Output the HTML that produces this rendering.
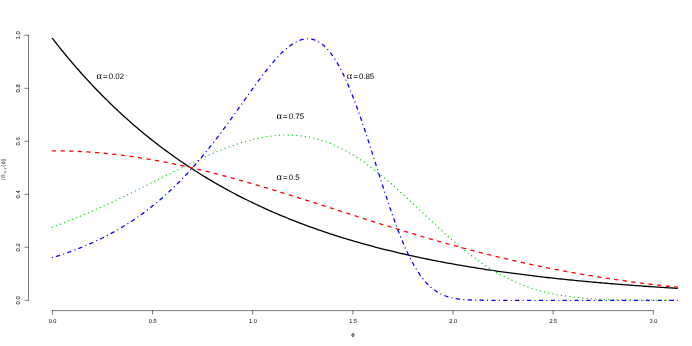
<!DOCTYPE html>
<html><head><meta charset="utf-8"><title>plot</title>
<style>html,body{margin:0;padding:0;background:#fff;overflow:hidden}svg{display:block;will-change:transform}text{text-rendering:geometricPrecision}</style></head>
<body>
<svg width="692" height="346" viewBox="0 0 692 346">
<rect width="692" height="346" fill="#fff"/>
<defs><clipPath id="c"><rect x="28.5" y="24.7" width="649.30" height="286.2"/></clipPath></defs>
<g clip-path="url(#c)" fill="none" stroke-linejoin="round" stroke-linecap="round" stroke-width="1.300">
<path d="M52.40 38.43 L54.36 40.94 L56.31 43.43 L58.27 45.90 L60.22 48.34 L62.18 50.76 L64.14 53.15 L66.09 55.52 L68.05 57.87 L70.00 60.20 L71.96 62.50 L73.92 64.79 L75.87 67.05 L77.83 69.29 L79.78 71.50 L81.74 73.70 L83.70 75.87 L85.65 78.03 L87.61 80.16 L89.57 82.28 L91.52 84.37 L93.48 86.44 L95.43 88.49 L97.39 90.53 L99.35 92.54 L101.30 94.53 L103.26 96.51 L105.21 98.47 L107.17 100.40 L109.13 102.32 L111.08 104.22 L113.04 106.10 L114.99 107.97 L116.95 109.82 L118.91 111.64 L120.86 113.45 L122.82 115.25 L124.77 117.02 L126.73 118.78 L128.69 120.53 L130.64 122.25 L132.60 123.96 L134.55 125.65 L136.51 127.33 L138.47 128.99 L140.42 130.64 L142.38 132.27 L144.33 133.88 L146.29 135.48 L148.25 137.06 L150.20 138.63 L152.16 140.18 L154.11 141.72 L156.07 143.24 L158.03 144.75 L159.98 146.24 L161.94 147.72 L163.90 149.18 L165.85 150.63 L167.81 152.07 L169.76 153.49 L171.72 154.90 L173.68 156.30 L175.63 157.68 L177.59 159.05 L179.54 160.41 L181.50 161.75 L183.46 163.08 L185.41 164.40 L187.37 165.70 L189.32 167.00 L191.28 168.28 L193.24 169.54 L195.19 170.80 L197.15 172.04 L199.10 173.27 L201.06 174.49 L203.02 175.70 L204.97 176.90 L206.93 178.08 L208.88 179.26 L210.84 180.42 L212.80 181.57 L214.75 182.71 L216.71 183.84 L218.66 184.96 L220.62 186.07 L222.58 187.16 L224.53 188.25 L226.49 189.33 L228.44 190.39 L230.40 191.45 L232.36 192.49 L234.31 193.53 L236.27 194.55 L238.23 195.57 L240.18 196.57 L242.14 197.57 L244.09 198.56 L246.05 199.53 L248.01 200.50 L249.96 201.46 L251.92 202.41 L253.87 203.35 L255.83 204.28 L257.79 205.20 L259.74 206.12 L261.70 207.02 L263.65 207.92 L265.61 208.80 L267.57 209.68 L269.52 210.55 L271.48 211.41 L273.43 212.27 L275.39 213.11 L277.35 213.95 L279.30 214.78 L281.26 215.60 L283.21 216.42 L285.17 217.22 L287.13 218.02 L289.08 218.81 L291.04 219.59 L292.99 220.37 L294.95 221.14 L296.91 221.90 L298.86 222.65 L300.82 223.39 L302.77 224.13 L304.73 224.87 L306.69 225.59 L308.64 226.31 L310.60 227.02 L312.56 227.72 L314.51 228.42 L316.47 229.11 L318.42 229.79 L320.38 230.47 L322.34 231.14 L324.29 231.81 L326.25 232.46 L328.20 233.12 L330.16 233.76 L332.12 234.40 L334.07 235.03 L336.03 235.66 L337.98 236.28 L339.94 236.90 L341.90 237.51 L343.85 238.11 L345.81 238.71 L347.76 239.30 L349.72 239.88 L351.68 240.46 L353.63 241.04 L355.59 241.61 L357.54 242.17 L359.50 242.73 L361.46 243.28 L363.41 243.83 L365.37 244.37 L367.32 244.91 L369.28 245.44 L371.24 245.97 L373.19 246.49 L375.15 247.01 L377.11 247.52 L379.06 248.03 L381.02 248.53 L382.97 249.03 L384.93 249.52 L386.89 250.01 L388.84 250.49 L390.80 250.97 L392.75 251.44 L394.71 251.91 L396.67 252.38 L398.62 252.84 L400.58 253.30 L402.53 253.75 L404.49 254.19 L406.45 254.64 L408.40 255.08 L410.36 255.51 L412.31 255.94 L414.27 256.37 L416.23 256.79 L418.18 257.21 L420.14 257.62 L422.09 258.03 L424.05 258.44 L426.01 258.84 L427.96 259.24 L429.92 259.63 L431.87 260.02 L433.83 260.41 L435.79 260.79 L437.74 261.17 L439.70 261.55 L441.65 261.92 L443.61 262.29 L445.57 262.66 L447.52 263.02 L449.48 263.38 L451.44 263.73 L453.39 264.08 L455.35 264.43 L457.30 264.78 L459.26 265.12 L461.22 265.45 L463.17 265.79 L465.13 266.12 L467.08 266.45 L469.04 266.78 L471.00 267.10 L472.95 267.42 L474.91 267.73 L476.86 268.05 L478.82 268.36 L480.78 268.66 L482.73 268.97 L484.69 269.27 L486.64 269.57 L488.60 269.86 L490.56 270.15 L492.51 270.44 L494.47 270.73 L496.42 271.02 L498.38 271.30 L500.34 271.58 L502.29 271.85 L504.25 272.12 L506.20 272.40 L508.16 272.66 L510.12 272.93 L512.07 273.19 L514.03 273.45 L515.98 273.71 L517.94 273.97 L519.90 274.22 L521.85 274.47 L523.81 274.72 L525.77 274.96 L527.72 275.21 L529.68 275.45 L531.63 275.69 L533.59 275.92 L535.55 276.16 L537.50 276.39 L539.46 276.62 L541.41 276.85 L543.37 277.07 L545.33 277.30 L547.28 277.52 L549.24 277.74 L551.19 277.95 L553.15 278.17 L555.11 278.38 L557.06 278.59 L559.02 278.80 L560.97 279.01 L562.93 279.21 L564.89 279.42 L566.84 279.62 L568.80 279.82 L570.75 280.01 L572.71 280.21 L574.67 280.40 L576.62 280.59 L578.58 280.78 L580.53 280.97 L582.49 281.15 L584.45 281.34 L586.40 281.52 L588.36 281.70 L590.32 281.88 L592.27 282.06 L594.23 282.23 L596.18 282.41 L598.14 282.58 L600.10 282.75 L602.05 282.92 L604.01 283.08 L605.96 283.25 L607.92 283.41 L609.88 283.58 L611.83 283.74 L613.79 283.90 L615.74 284.05 L617.70 284.21 L619.66 284.37 L621.61 284.52 L623.57 284.67 L625.52 284.82 L627.48 284.97 L629.44 285.12 L631.39 285.26 L633.35 285.41 L635.30 285.55 L637.26 285.69 L639.22 285.83 L641.17 285.97 L643.13 286.11 L645.08 286.25 L647.04 286.38 L649.00 286.52 L650.95 286.65 L652.91 286.78 L654.86 286.91 L656.82 287.04 L658.78 287.17 L660.73 287.29 L662.69 287.42 L664.65 287.54 L666.60 287.66 L668.56 287.78 L670.51 287.91 L672.47 288.02 L674.43 288.14 L676.38 288.26 L678.34 288.38" stroke="#000"/>
<path d="M52.40 150.79 L54.36 150.79 L56.31 150.80 L58.27 150.82 L60.22 150.85 L62.18 150.88 L64.14 150.92 L66.09 150.96 L68.05 151.02 L70.00 151.08 L71.96 151.15 L73.92 151.22 L75.87 151.30 L77.83 151.39 L79.78 151.49 L81.74 151.59 L83.70 151.70 L85.65 151.82 L87.61 151.94 L89.57 152.07 L91.52 152.21 L93.48 152.35 L95.43 152.51 L97.39 152.66 L99.35 152.83 L101.30 153.00 L103.26 153.18 L105.21 153.37 L107.17 153.56 L109.13 153.76 L111.08 153.96 L113.04 154.18 L114.99 154.40 L116.95 154.62 L118.91 154.85 L120.86 155.09 L122.82 155.34 L124.77 155.59 L126.73 155.85 L128.69 156.11 L130.64 156.39 L132.60 156.66 L134.55 156.95 L136.51 157.24 L138.47 157.53 L140.42 157.84 L142.38 158.15 L144.33 158.46 L146.29 158.78 L148.25 159.11 L150.20 159.44 L152.16 159.78 L154.11 160.12 L156.07 160.47 L158.03 160.83 L159.98 161.19 L161.94 161.56 L163.90 161.93 L165.85 162.31 L167.81 162.70 L169.76 163.09 L171.72 163.48 L173.68 163.88 L175.63 164.29 L177.59 164.70 L179.54 165.12 L181.50 165.54 L183.46 165.96 L185.41 166.40 L187.37 166.83 L189.32 167.27 L191.28 167.72 L193.24 168.17 L195.19 168.63 L197.15 169.09 L199.10 169.55 L201.06 170.02 L203.02 170.50 L204.97 170.98 L206.93 171.46 L208.88 171.95 L210.84 172.44 L212.80 172.94 L214.75 173.44 L216.71 173.94 L218.66 174.45 L220.62 174.96 L222.58 175.48 L224.53 176.00 L226.49 176.52 L228.44 177.05 L230.40 177.58 L232.36 178.11 L234.31 178.65 L236.27 179.19 L238.23 179.73 L240.18 180.28 L242.14 180.83 L244.09 181.39 L246.05 181.94 L248.01 182.50 L249.96 183.07 L251.92 183.63 L253.87 184.20 L255.83 184.77 L257.79 185.35 L259.74 185.93 L261.70 186.50 L263.65 187.09 L265.61 187.67 L267.57 188.26 L269.52 188.85 L271.48 189.44 L273.43 190.03 L275.39 190.63 L277.35 191.22 L279.30 191.82 L281.26 192.42 L283.21 193.03 L285.17 193.63 L287.13 194.24 L289.08 194.84 L291.04 195.45 L292.99 196.06 L294.95 196.68 L296.91 197.29 L298.86 197.90 L300.82 198.52 L302.77 199.14 L304.73 199.75 L306.69 200.37 L308.64 200.99 L310.60 201.61 L312.56 202.24 L314.51 202.86 L316.47 203.48 L318.42 204.10 L320.38 204.73 L322.34 205.35 L324.29 205.98 L326.25 206.60 L328.20 207.23 L330.16 207.85 L332.12 208.48 L334.07 209.11 L336.03 209.73 L337.98 210.36 L339.94 210.99 L341.90 211.61 L343.85 212.24 L345.81 212.86 L347.76 213.49 L349.72 214.11 L351.68 214.74 L353.63 215.36 L355.59 215.98 L357.54 216.61 L359.50 217.23 L361.46 217.85 L363.41 218.47 L365.37 219.09 L367.32 219.71 L369.28 220.33 L371.24 220.95 L373.19 221.56 L375.15 222.18 L377.11 222.79 L379.06 223.41 L381.02 224.02 L382.97 224.63 L384.93 225.24 L386.89 225.84 L388.84 226.45 L390.80 227.06 L392.75 227.66 L394.71 228.26 L396.67 228.86 L398.62 229.46 L400.58 230.06 L402.53 230.65 L404.49 231.25 L406.45 231.84 L408.40 232.43 L410.36 233.02 L412.31 233.60 L414.27 234.19 L416.23 234.77 L418.18 235.35 L420.14 235.93 L422.09 236.50 L424.05 237.08 L426.01 237.65 L427.96 238.22 L429.92 238.79 L431.87 239.35 L433.83 239.91 L435.79 240.47 L437.74 241.03 L439.70 241.59 L441.65 242.14 L443.61 242.69 L445.57 243.24 L447.52 243.78 L449.48 244.33 L451.44 244.87 L453.39 245.41 L455.35 245.94 L457.30 246.47 L459.26 247.00 L461.22 247.53 L463.17 248.06 L465.13 248.58 L467.08 249.10 L469.04 249.61 L471.00 250.13 L472.95 250.64 L474.91 251.14 L476.86 251.65 L478.82 252.15 L480.78 252.65 L482.73 253.15 L484.69 253.64 L486.64 254.13 L488.60 254.62 L490.56 255.10 L492.51 255.58 L494.47 256.06 L496.42 256.54 L498.38 257.01 L500.34 257.48 L502.29 257.94 L504.25 258.41 L506.20 258.87 L508.16 259.32 L510.12 259.78 L512.07 260.23 L514.03 260.67 L515.98 261.12 L517.94 261.56 L519.90 262.00 L521.85 262.43 L523.81 262.87 L525.77 263.29 L527.72 263.72 L529.68 264.14 L531.63 264.56 L533.59 264.98 L535.55 265.39 L537.50 265.80 L539.46 266.21 L541.41 266.61 L543.37 267.01 L545.33 267.41 L547.28 267.80 L549.24 268.19 L551.19 268.58 L553.15 268.96 L555.11 269.34 L557.06 269.72 L559.02 270.09 L560.97 270.47 L562.93 270.83 L564.89 271.20 L566.84 271.56 L568.80 271.92 L570.75 272.28 L572.71 272.63 L574.67 272.98 L576.62 273.32 L578.58 273.67 L580.53 274.01 L582.49 274.34 L584.45 274.68 L586.40 275.01 L588.36 275.34 L590.32 275.66 L592.27 275.98 L594.23 276.30 L596.18 276.62 L598.14 276.93 L600.10 277.24 L602.05 277.54 L604.01 277.85 L605.96 278.15 L607.92 278.45 L609.88 278.74 L611.83 279.03 L613.79 279.32 L615.74 279.61 L617.70 279.89 L619.66 280.17 L621.61 280.45 L623.57 280.72 L625.52 280.99 L627.48 281.26 L629.44 281.52 L631.39 281.79 L633.35 282.05 L635.30 282.30 L637.26 282.56 L639.22 282.81 L641.17 283.06 L643.13 283.31 L645.08 283.55 L647.04 283.79 L649.00 284.03 L650.95 284.26 L652.91 284.50 L654.86 284.73 L656.82 284.95 L658.78 285.18 L660.73 285.40 L662.69 285.62 L664.65 285.84 L666.60 286.05 L668.56 286.26 L670.51 286.47 L672.47 286.68 L674.43 286.88 L676.38 287.09 L678.34 287.29" stroke="#f00" stroke-dasharray="3.213 5.423" stroke-dashoffset="0.000"/>
<path d="M52.40 227.21 L54.36 226.48 L56.31 225.74 L58.27 224.99 L60.22 224.24 L62.18 223.48 L64.14 222.71 L66.09 221.94 L68.05 221.16 L70.00 220.38 L71.96 219.59 L73.92 218.79 L75.87 217.99 L77.83 217.18 L79.78 216.36 L81.74 215.54 L83.70 214.71 L85.65 213.88 L87.61 213.04 L89.57 212.19 L91.52 211.34 L93.48 210.48 L95.43 209.62 L97.39 208.75 L99.35 207.87 L101.30 206.99 L103.26 206.10 L105.21 205.21 L107.17 204.32 L109.13 203.41 L111.08 202.51 L113.04 201.60 L114.99 200.68 L116.95 199.76 L118.91 198.83 L120.86 197.90 L122.82 196.97 L124.77 196.03 L126.73 195.09 L128.69 194.14 L130.64 193.19 L132.60 192.24 L134.55 191.28 L136.51 190.32 L138.47 189.36 L140.42 188.40 L142.38 187.43 L144.33 186.46 L146.29 185.49 L148.25 184.51 L150.20 183.54 L152.16 182.56 L154.11 181.59 L156.07 180.61 L158.03 179.63 L159.98 178.65 L161.94 177.68 L163.90 176.70 L165.85 175.72 L167.81 174.75 L169.76 173.77 L171.72 172.80 L173.68 171.83 L175.63 170.86 L177.59 169.90 L179.54 168.93 L181.50 167.98 L183.46 167.02 L185.41 166.07 L187.37 165.13 L189.32 164.19 L191.28 163.25 L193.24 162.32 L195.19 161.40 L197.15 160.49 L199.10 159.58 L201.06 158.68 L203.02 157.79 L204.97 156.91 L206.93 156.03 L208.88 155.17 L210.84 154.32 L212.80 153.48 L214.75 152.65 L216.71 151.83 L218.66 151.02 L220.62 150.23 L222.58 149.45 L224.53 148.68 L226.49 147.93 L228.44 147.19 L230.40 146.47 L232.36 145.77 L234.31 145.08 L236.27 144.41 L238.23 143.76 L240.18 143.13 L242.14 142.51 L244.09 141.92 L246.05 141.34 L248.01 140.79 L249.96 140.26 L251.92 139.75 L253.87 139.26 L255.83 138.80 L257.79 138.36 L259.74 137.94 L261.70 137.55 L263.65 137.19 L265.61 136.85 L267.57 136.54 L269.52 136.25 L271.48 136.00 L273.43 135.77 L275.39 135.57 L277.35 135.40 L279.30 135.26 L281.26 135.15 L283.21 135.07 L285.17 135.02 L287.13 135.01 L289.08 135.02 L291.04 135.07 L292.99 135.16 L294.95 135.27 L296.91 135.42 L298.86 135.60 L300.82 135.82 L302.77 136.08 L304.73 136.37 L306.69 136.69 L308.64 137.05 L310.60 137.44 L312.56 137.88 L314.51 138.34 L316.47 138.85 L318.42 139.39 L320.38 139.97 L322.34 140.58 L324.29 141.24 L326.25 141.92 L328.20 142.65 L330.16 143.41 L332.12 144.21 L334.07 145.05 L336.03 145.92 L337.98 146.83 L339.94 147.77 L341.90 148.75 L343.85 149.76 L345.81 150.82 L347.76 151.90 L349.72 153.02 L351.68 154.18 L353.63 155.36 L355.59 156.58 L357.54 157.84 L359.50 159.12 L361.46 160.44 L363.41 161.79 L365.37 163.17 L367.32 164.58 L369.28 166.01 L371.24 167.48 L373.19 168.97 L375.15 170.49 L377.11 172.03 L379.06 173.60 L381.02 175.20 L382.97 176.81 L384.93 178.45 L386.89 180.11 L388.84 181.79 L390.80 183.49 L392.75 185.20 L394.71 186.94 L396.67 188.68 L398.62 190.45 L400.58 192.22 L402.53 194.01 L404.49 195.81 L406.45 197.62 L408.40 199.44 L410.36 201.27 L412.31 203.10 L414.27 204.94 L416.23 206.78 L418.18 208.63 L420.14 210.47 L422.09 212.32 L424.05 214.17 L426.01 216.01 L427.96 217.85 L429.92 219.69 L431.87 221.52 L433.83 223.35 L435.79 225.16 L437.74 226.97 L439.70 228.77 L441.65 230.55 L443.61 232.33 L445.57 234.09 L447.52 235.83 L449.48 237.56 L451.44 239.28 L453.39 240.98 L455.35 242.65 L457.30 244.31 L459.26 245.95 L461.22 247.57 L463.17 249.17 L465.13 250.75 L467.08 252.30 L469.04 253.83 L471.00 255.33 L472.95 256.81 L474.91 258.26 L476.86 259.69 L478.82 261.09 L480.78 262.46 L482.73 263.81 L484.69 265.13 L486.64 266.42 L488.60 267.68 L490.56 268.91 L492.51 270.12 L494.47 271.30 L496.42 272.44 L498.38 273.56 L500.34 274.65 L502.29 275.71 L504.25 276.74 L506.20 277.74 L508.16 278.72 L510.12 279.66 L512.07 280.58 L514.03 281.46 L515.98 282.32 L517.94 283.15 L519.90 283.96 L521.85 284.73 L523.81 285.48 L525.77 286.21 L527.72 286.90 L529.68 287.57 L531.63 288.22 L533.59 288.84 L535.55 289.44 L537.50 290.01 L539.46 290.56 L541.41 291.09 L543.37 291.60 L545.33 292.08 L547.28 292.54 L549.24 292.99 L551.19 293.41 L553.15 293.81 L555.11 294.19 L557.06 294.56 L559.02 294.91 L560.97 295.24 L562.93 295.55 L564.89 295.85 L566.84 296.13 L568.80 296.40 L570.75 296.66 L572.71 296.90 L574.67 297.12 L576.62 297.34 L578.58 297.54 L580.53 297.73 L582.49 297.91 L584.45 298.08 L586.40 298.24 L588.36 298.38 L590.32 298.52 L592.27 298.66 L594.23 298.78 L596.18 298.89 L598.14 299.00 L600.10 299.10 L602.05 299.19 L604.01 299.28 L605.96 299.36 L607.92 299.44 L609.88 299.51 L611.83 299.57 L613.79 299.63 L615.74 299.69 L617.70 299.74 L619.66 299.79 L621.61 299.83 L623.57 299.87 L625.52 299.91 L627.48 299.95 L629.44 299.98 L631.39 300.01 L633.35 300.04 L635.30 300.06 L637.26 300.08 L639.22 300.10 L641.17 300.12 L643.13 300.14 L645.08 300.15 L647.04 300.17 L649.00 300.18 L650.95 300.19 L652.91 300.20 L654.86 300.21 L656.82 300.22 L658.78 300.23 L660.73 300.24 L662.69 300.25 L664.65 300.25 L666.60 300.26 L668.56 300.26 L670.51 300.27 L672.47 300.27 L674.43 300.27 L676.38 300.28 L678.34 300.28" stroke="#00cd00" stroke-dasharray="0.010 4.308" stroke-dashoffset="0.000"/>
<path d="M52.40 257.70 L54.36 257.09 L56.31 256.46 L58.27 255.83 L60.22 255.19 L62.18 254.53 L64.14 253.86 L66.09 253.18 L68.05 252.48 L70.00 251.78 L71.96 251.06 L73.92 250.32 L75.87 249.57 L77.83 248.81 L79.78 248.04 L81.74 247.25 L83.70 246.44 L85.65 245.62 L87.61 244.79 L89.57 243.94 L91.52 243.07 L93.48 242.19 L95.43 241.28 L97.39 240.37 L99.35 239.43 L101.30 238.48 L103.26 237.51 L105.21 236.52 L107.17 235.51 L109.13 234.49 L111.08 233.44 L113.04 232.37 L114.99 231.29 L116.95 230.18 L118.91 229.05 L120.86 227.90 L122.82 226.73 L124.77 225.54 L126.73 224.33 L128.69 223.09 L130.64 221.83 L132.60 220.54 L134.55 219.23 L136.51 217.90 L138.47 216.54 L140.42 215.15 L142.38 213.74 L144.33 212.31 L146.29 210.85 L148.25 209.36 L150.20 207.84 L152.16 206.30 L154.11 204.72 L156.07 203.12 L158.03 201.49 L159.98 199.83 L161.94 198.15 L163.90 196.43 L165.85 194.68 L167.81 192.90 L169.76 191.10 L171.72 189.26 L173.68 187.39 L175.63 185.48 L177.59 183.55 L179.54 181.59 L181.50 179.59 L183.46 177.56 L185.41 175.50 L187.37 173.41 L189.32 171.28 L191.28 169.12 L193.24 166.93 L195.19 164.71 L197.15 162.46 L199.10 160.18 L201.06 157.86 L203.02 155.52 L204.97 153.14 L206.93 150.73 L208.88 148.30 L210.84 145.83 L212.80 143.34 L214.75 140.82 L216.71 138.28 L218.66 135.71 L220.62 133.12 L222.58 130.50 L224.53 127.86 L226.49 125.20 L228.44 122.53 L230.40 119.83 L232.36 117.13 L234.31 114.41 L236.27 111.67 L238.23 108.93 L240.18 106.19 L242.14 103.44 L244.09 100.69 L246.05 97.94 L248.01 95.20 L249.96 92.47 L251.92 89.75 L253.87 87.04 L255.83 84.36 L257.79 81.70 L259.74 79.07 L261.70 76.47 L263.65 73.91 L265.61 71.39 L267.57 68.92 L269.52 66.50 L271.48 64.14 L273.43 61.84 L275.39 59.61 L277.35 57.46 L279.30 55.39 L281.26 53.41 L283.21 51.52 L285.17 49.74 L287.13 48.07 L289.08 46.51 L291.04 45.07 L292.99 43.76 L294.95 42.59 L296.91 41.56 L298.86 40.68 L300.82 39.96 L302.77 39.41 L304.73 39.03 L306.69 38.83 L308.64 38.81 L310.60 38.98 L312.56 39.35 L314.51 39.93 L316.47 40.72 L318.42 41.72 L320.38 42.93 L322.34 44.38 L324.29 46.04 L326.25 47.94 L328.20 50.07 L330.16 52.44 L332.12 55.04 L334.07 57.87 L336.03 60.94 L337.98 64.24 L339.94 67.77 L341.90 71.53 L343.85 75.52 L345.81 79.71 L347.76 84.12 L349.72 88.74 L351.68 93.55 L353.63 98.54 L355.59 103.71 L357.54 109.04 L359.50 114.53 L361.46 120.16 L363.41 125.90 L365.37 131.76 L367.32 137.71 L369.28 143.75 L371.24 149.84 L373.19 155.97 L375.15 162.13 L377.11 168.30 L379.06 174.46 L381.02 180.59 L382.97 186.68 L384.93 192.70 L386.89 198.65 L388.84 204.49 L390.80 210.23 L392.75 215.84 L394.71 221.30 L396.67 226.61 L398.62 231.75 L400.58 236.71 L402.53 241.48 L404.49 246.06 L406.45 250.43 L408.40 254.60 L410.36 258.55 L412.31 262.28 L414.27 265.80 L416.23 269.09 L418.18 272.18 L420.14 275.05 L422.09 277.71 L424.05 280.17 L426.01 282.43 L427.96 284.50 L429.92 286.39 L431.87 288.10 L433.83 289.65 L435.79 291.04 L437.74 292.29 L439.70 293.40 L441.65 294.38 L443.61 295.25 L445.57 296.01 L447.52 296.68 L449.48 297.26 L451.44 297.76 L453.39 298.19 L455.35 298.55 L457.30 298.86 L459.26 299.13 L461.22 299.35 L463.17 299.53 L465.13 299.68 L467.08 299.81 L469.04 299.91 L471.00 299.99 L472.95 300.06 L474.91 300.11 L476.86 300.16 L478.82 300.19 L480.78 300.22 L482.73 300.24 L484.69 300.25 L486.64 300.26 L488.60 300.27 L490.56 300.28 L492.51 300.29 L494.47 300.29 L496.42 300.29 L498.38 300.30 L500.34 300.30 L502.29 300.30 L504.25 300.30 L506.20 300.30 L508.16 300.30 L510.12 300.30 L512.07 300.30 L514.03 300.30 L515.98 300.30 L517.94 300.30 L519.90 300.30 L521.85 300.30 L523.81 300.30 L525.77 300.30 L527.72 300.30 L529.68 300.30 L531.63 300.30 L533.59 300.30 L535.55 300.30 L537.50 300.30 L539.46 300.30 L541.41 300.30 L543.37 300.30 L545.33 300.30 L547.28 300.30 L549.24 300.30 L551.19 300.30 L553.15 300.30 L555.11 300.30 L557.06 300.30 L559.02 300.30 L560.97 300.30 L562.93 300.30 L564.89 300.30 L566.84 300.30 L568.80 300.30 L570.75 300.30 L572.71 300.30 L574.67 300.30 L576.62 300.30 L578.58 300.30 L580.53 300.30 L582.49 300.30 L584.45 300.30 L586.40 300.30 L588.36 300.30 L590.32 300.30 L592.27 300.30 L594.23 300.30 L596.18 300.30 L598.14 300.30 L600.10 300.30 L602.05 300.30 L604.01 300.30 L605.96 300.30 L607.92 300.30 L609.88 300.30 L611.83 300.30 L613.79 300.30 L615.74 300.30 L617.70 300.30 L619.66 300.30 L621.61 300.30 L623.57 300.30 L625.52 300.30 L627.48 300.30 L629.44 300.30 L631.39 300.30 L633.35 300.30 L635.30 300.30 L637.26 300.30 L639.22 300.30 L641.17 300.30 L643.13 300.30 L645.08 300.30 L647.04 300.30 L649.00 300.30 L650.95 300.30 L652.91 300.30 L654.86 300.30 L656.82 300.30 L658.78 300.30 L660.73 300.30 L662.69 300.30 L664.65 300.30 L666.60 300.30 L668.56 300.30 L670.51 300.30 L672.47 300.30 L674.43 300.30 L676.38 300.30 L678.34 300.30" stroke="#00f" stroke-dasharray="0.010 4.308 3.213 4.343" stroke-dashoffset="0.000"/>
</g>
<path d="M52.40 310.60 H653.30 M52.40 310.60 v3.60 M152.55 310.60 v3.60 M252.70 310.60 v3.60 M352.85 310.60 v3.60 M453.00 310.60 v3.60 M553.15 310.60 v3.60 M653.30 310.60 v3.60 M28.50 300.30 V35.30 M28.50 300.30 h-3.60 M28.50 247.30 h-3.60 M28.50 194.30 h-3.60 M28.50 141.30 h-3.60 M28.50 88.30 h-3.60 M28.50 35.30 h-3.60" fill="none" stroke="#000" stroke-width="0.520" stroke-linecap="round"/>
<g font-family="Liberation Sans, sans-serif" font-size="5.90" fill="#000" text-anchor="middle" opacity="1.00">
<text x="52.60" y="323.00" textLength="7.85" lengthAdjust="spacingAndGlyphs">0.0</text>
<text x="152.75" y="323.00" textLength="7.85" lengthAdjust="spacingAndGlyphs">0.5</text>
<text x="252.90" y="323.00" textLength="7.85" lengthAdjust="spacingAndGlyphs">1.0</text>
<text x="353.05" y="323.00" textLength="7.85" lengthAdjust="spacingAndGlyphs">1.5</text>
<text x="453.20" y="323.00" textLength="7.85" lengthAdjust="spacingAndGlyphs">2.0</text>
<text x="553.35" y="323.00" textLength="7.85" lengthAdjust="spacingAndGlyphs">2.5</text>
<text x="653.50" y="323.00" textLength="7.85" lengthAdjust="spacingAndGlyphs">3.0</text>
<text transform="translate(20.20 300.30) rotate(-90)">0.0</text>
<text transform="translate(20.20 247.30) rotate(-90)">0.2</text>
<text transform="translate(20.20 194.30) rotate(-90)">0.4</text>
<text transform="translate(20.20 141.30) rotate(-90)">0.6</text>
<text transform="translate(20.20 88.30) rotate(-90)">0.8</text>
<text transform="translate(20.20 35.30) rotate(-90)">1.0</text>
<g transform="translate(5.30 180.50) rotate(-90)" text-anchor="start" font-size="5.70" opacity="0.72">
<text x="0.10" y="0.00">|</text>
<text x="2.50" y="0.00">B</text>
<text x="7.10" y="0.70" font-size="4.10">α</text>
<text x="9.50" y="0.70" font-size="4.10">,</text>
<text x="10.90" y="0.70" font-size="4.10">γ</text>
<text x="14.00" y="0.00">(</text>
<text x="15.90" y="0.00">ϕ</text>
<text x="19.20" y="0.00">)</text>
<text x="20.60" y="0.00">|</text>
</g>
</g>
<g font-family="Liberation Sans, sans-serif" font-size="7.90" fill="#000" opacity="1.00">
<text y="78.70"><tspan x="96.60" font-family="Liberation Serif, serif" font-size="10.27">α</tspan><tspan x="102.95">=</tspan><tspan x="108.70">0.02</tspan></text>
<text y="78.70"><tspan x="346.80" font-family="Liberation Serif, serif" font-size="10.27">α</tspan><tspan x="353.15">=</tspan><tspan x="358.90">0.85</tspan></text>
<text y="118.70"><tspan x="276.60" font-family="Liberation Serif, serif" font-size="10.27">α</tspan><tspan x="282.95">=</tspan><tspan x="288.70">0.75</tspan></text>
<text y="179.80"><tspan x="276.60" font-family="Liberation Serif, serif" font-size="10.27">α</tspan><tspan x="282.95">=</tspan><tspan x="288.70">0.5</tspan></text>
</g>
<g fill="none" stroke="#000" stroke-width="0.60" opacity="0.90"><ellipse cx="353.00" cy="335.10" rx="1.35" ry="1.25"/><path d="M353.00 333.00 v4.20"/></g>
</svg>
</body></html>
